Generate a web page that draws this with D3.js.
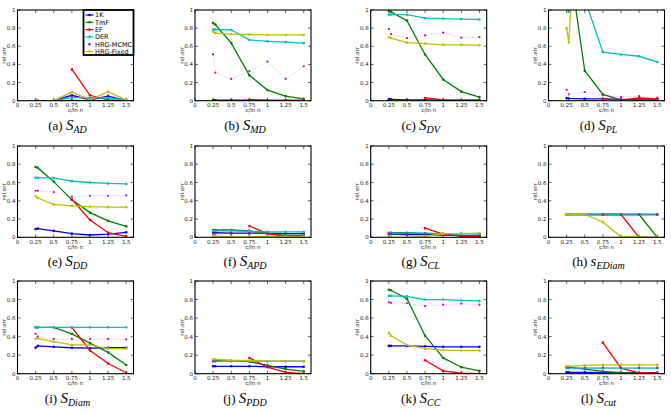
<!DOCTYPE html>
<html lang="en">
<head>
<meta charset="utf-8">
<title>rel.err small multiples</title>
<script src="https://d3js.org/d3.v7.min.js"></script>
<style>
  body { margin: 0; background: #fff; }
  text { font-family: "DejaVu Sans", sans-serif; }
  .cap { font-family: "Liberation Serif", "DejaVu Serif", serif; }
</style>
</head>
<body>
<script>
// x positions of the measurements (c / ln n)
const xs = [0.25, 0.28, 0.5, 0.75, 1, 1.25, 1.5];
const seriesNames = ['1K', 'TmF', 'EF', 'DER', 'HRG-MCMC', 'HRG-Fixed'];
const seriesColors = ['#0000ff', '#008000', '#ff0000', '#00bfbf', '#bf00bf', '#bfbf00'];
const xTicks = [0, 0.25, 0.5, 0.75, 1, 1.25, 1.5];
const yTicks = [0, 0.2, 0.4, 0.6, 0.8, 1];

// each panel: [1K, TmF, EF, DER, HRG-MCMC, HRG-Fixed]
const sAD = [
  [0, 0, 0, 0.06, 0.01, 0.05, 0],
  [0, 0, 0, 0.002, 0, 0, 0],
  [null, null, null, 0.345, 0.06, 0.01, 0],
  [0, 0, 0, 0.035, 0.035, 0.03, 0.01],
  [0, 0, 0, 0.05, 0.02, 0.06, 0.01],
  [0, 0, 0, 0.095, 0.01, 0.10, 0.01]
];
const sMD = [
  [0.005, 0.005, 0.005, 0.005, 0.003, 0.002, 0.002],
  [0.855, 0.84, 0.635, 0.28, 0.117, 0.05, 0.02],
  [null, null, null, 0.012, 0.005, 0.003, 0.002],
  [0.785, 0.785, 0.78, 0.67, 0.655, 0.645, 0.635],
  [0.51, 0.31, 0.24, 0.325, 0.43, 0.24, 0.38],
  [0.76, 0.745, 0.735, 0.73, 0.725, 0.725, 0.725]
];
const sDV = [
  [0.015, 0.015, 0.01, 0.01, 0.005, 0.005, 0.005],
  [0.99, 0.98, 0.883, 0.51, 0.234, 0.10, 0.04],
  [null, null, null, 0.03, 0.01, 0.005, 0.005],
  [0.95, 0.95, 0.948, 0.91, 0.905, 0.90, 0.895],
  [0.79, 0.735, 0.69, 0.72, 0.75, 0.695, 0.70],
  [0.70, 0.69, 0.64, 0.63, 0.615, 0.615, 0.61]
];
const sPL = [
  [0.03, 0.025, 0.02, 0.02, 0.015, 0.01, 0.01],
  [1.6, 1.55, 0.33, 0.07, 0.01, 0.01, 0.01],
  [null, null, null, 0.02, 0.01, 0.03, 0.02],
  [1.02, 0.98, 1.12, 0.536, 0.51, 0.49, 0.427],
  [0.12, 0.07, 0.095, 0.06, 0.04, 0.05, 0.035],
  [0.80, 0.642, 3.7, 3.5, 3.5, 3.5, 3.5]
];
const sDD = [
  [0.09, 0.095, 0.07, 0.04, 0.025, 0.035, 0.055],
  [0.77, 0.76, 0.61, 0.41, 0.27, 0.18, 0.12],
  [null, null, null, 0.415, 0.19, 0.05, 0.01],
  [0.653, 0.653, 0.65, 0.615, 0.60, 0.59, 0.585],
  [0.51, 0.51, 0.495, 0.445, 0.455, 0.455, 0.46],
  [0.45, 0.43, 0.36, 0.345, 0.335, 0.33, 0.33]
];
const sAPD = [
  [0.05, 0.05, 0.045, 0.045, 0.045, 0.04, 0.04],
  [0.08, 0.08, 0.08, 0.07, 0.04, 0.02, 0.02],
  [null, null, null, 0.124, 0.04, 0.01, 0],
  [0.07, 0.07, 0.07, 0.065, 0.06, 0.06, 0.06],
  [0.04, 0.04, 0.04, 0.04, 0.035, 0.035, 0.035],
  [0.02, 0.015, 0.005, 0.005, 0.01, 0.01, 0.01]
];
const sCL = [
  [0.035, 0.035, 0.03, 0.03, 0.025, 0.02, 0.02],
  [0.05, 0.05, 0.05, 0.04, 0.03, 0.02, 0.015],
  [null, null, null, 0.10, 0.035, 0.01, 0.005],
  [0.045, 0.045, 0.045, 0.045, 0.04, 0.04, 0.04],
  [0.04, 0.04, 0.04, 0.04, 0.04, 0.04, 0.04],
  [0, 0, 0, 0.01, 0.04, 0.04, 0.045]
];
const sEDiam = [
  [0.25, 0.25, 0.25, 0.25, 0.25, 0.25, 0.25],
  [0.25, 0.25, 0.25, 0.25, 0.25, 0.25, 0],
  [null, null, null, 0.25, 0.25, 0, 0],
  [0.25, 0.25, 0.25, 0.25, 0.25, 0.25, 0.25],
  [0.25, 0.25, 0.25, 0.25, 0.25, 0.25, 0.25],
  [0.25, 0.25, 0.25, 0.168, 0.005, 0.005, 0]
];
const sDiam = [
  [0.28, 0.30, 0.29, 0.28, 0.275, 0.28, 0.28],
  [0.5, 0.5, 0.5, 0.43, 0.33, 0.23, 0.094],
  [null, null, null, 0.5, 0.25, 0.11, 0.01],
  [0.5, 0.5, 0.5, 0.5, 0.5, 0.5, 0.5],
  [0.43, 0.40, 0.375, 0.375, 0.375, 0.375, 0.37],
  [0.38, 0.38, 0.345, 0.31, 0.31, 0.27, 0.27]
];
const sPDD = [
  [0.08, 0.08, 0.08, 0.08, 0.075, 0.075, 0.075],
  [0.14, 0.14, 0.14, 0.13, 0.09, 0.05, 0.025],
  [null, null, null, 0.17, 0.07, 0.015, 0],
  [0.135, 0.135, 0.135, 0.135, 0.135, 0.135, 0.135],
  [0.135, 0.135, 0.135, 0.135, 0.135, 0.135, 0.135],
  [0.155, 0.155, 0.145, 0.14, 0.135, 0.135, 0.135]
];
const sCC = [
  [0.30, 0.30, 0.30, 0.295, 0.29, 0.29, 0.29],
  [0.905, 0.90, 0.81, 0.41, 0.17, 0.07, 0.03],
  [null, null, null, 0.145, 0.03, 0.005, 0],
  [0.84, 0.84, 0.835, 0.80, 0.80, 0.79, 0.785],
  [0.77, 0.765, 0.76, 0.73, 0.745, 0.755, 0.745],
  [0.44, 0.41, 0.31, 0.27, 0.255, 0.25, 0.25]
];
const sCut = [
  [0.015, 0.015, 0.015, 0.01, 0.01, 0.01, 0.01],
  [0.075, 0.07, 0.05, 0.025, 0.01, 0.005, 0],
  [null, null, null, 0.335, 0.06, 0.01, 0.005],
  [0.06, 0.06, 0.06, 0.06, 0.06, 0.06, 0.06],
  [0.07, 0.07, 0.065, 0.065, 0.065, 0.065, 0.065],
  [0.08, 0.08, 0.09, 0.095, 0.095, 0.095, 0.095]
];

const panels = [
  {tag: '(a)', s: 'S', sub: 'AD', data: sAD},
  {tag: '(b)', s: 'S', sub: 'MD', data: sMD},
  {tag: '(c)', s: 'S', sub: 'DV', data: sDV},
  {tag: '(d)', s: 'S', sub: 'PL', data: sPL},
  {tag: '(e)', s: 'S', sub: 'DD', data: sDD},
  {tag: '(f)', s: 'S', sub: 'APD', data: sAPD},
  {tag: '(g)', s: 'S', sub: 'CL', data: sCL},
  {tag: '(h)', s: 's', sub: 'EDiam', data: sEDiam},
  {tag: '(i)', s: 'S', sub: 'Diam', data: sDiam},
  {tag: '(j)', s: 'S', sub: 'PDD', data: sPDD},
  {tag: '(k)', s: 'S', sub: 'CC', data: sCC},
  {tag: '(l)', s: 'S', sub: 'cut', data: sCut}
];

const W = 671, H = 412;
const colLeft = [17.5, 195, 370.7, 548.5];
const rowTop = [10, 146, 281];
const rowH = [90.7, 91.3, 92.7];
const pw = 116;

const svg = d3.select('body').append('svg')
  .attr('width', W).attr('height', H);

panels.forEach((p, i) => {
  const col = i % 4, row = Math.floor(i / 4);
  const ph = rowH[row];
  const g = svg.append('g')
    .attr('transform', 'translate(' + colLeft[col] + ',' + rowTop[row] + ')');

  const x = d3.scaleLinear().domain([0, 1.6]).range([0, pw]);
  const y = d3.scaleLinear().domain([0, 1]).range([ph, 0]);

  g.append('clipPath').attr('id', 'clip' + i)
    .append('rect').attr('width', pw).attr('height', ph);

  // ticks pointing inward, on all four sides
  const tickLen = 3;
  const ax = g.append('g').attr('font-size', 5.5).attr('fill', '#222');
  xTicks.forEach(t => {
    ax.append('line').attr('x1', x(t)).attr('x2', x(t)).attr('y1', ph).attr('y2', ph - tickLen).attr('stroke', '#000').attr('stroke-width', 0.6);
    ax.append('line').attr('x1', x(t)).attr('x2', x(t)).attr('y1', 0).attr('y2', tickLen).attr('stroke', '#000').attr('stroke-width', 0.6);
    ax.append('text').attr('x', x(t)).attr('y', ph + 6.5).attr('text-anchor', 'middle').text(t);
  });
  yTicks.forEach(t => {
    ax.append('line').attr('x1', 0).attr('x2', tickLen).attr('y1', y(t)).attr('y2', y(t)).attr('stroke', '#000').attr('stroke-width', 0.6);
    ax.append('line').attr('x1', pw).attr('x2', pw - tickLen).attr('y1', y(t)).attr('y2', y(t)).attr('stroke', '#000').attr('stroke-width', 0.6);
    ax.append('text').attr('x', -2).attr('y', y(t) + 2).attr('text-anchor', 'end').text(t);
  });
  g.append('text').attr('x', pw / 2).attr('y', ph + 11.5).attr('text-anchor', 'middle')
    .attr('font-size', 5.5).attr('fill', '#222').text('c/ln n');
  g.append('text').attr('transform', 'translate(-11.5,' + (ph / 2) + ') rotate(-90)')
    .attr('text-anchor', 'middle').attr('font-size', 5.5).attr('fill', '#222').text('rel.err');

  const plot = g.append('g').attr('clip-path', 'url(#clip' + i + ')');
  const line = d3.line()
    .defined(d => d[1] != null)
    .x(d => x(d[0])).y(d => y(d[1]));

  p.data.forEach((vals, k) => {
    const pts = xs.map((xv, j) => [xv, vals[j]]);
    const mcmc = seriesNames[k] === 'HRG-MCMC';
    plot.append('path').datum(pts)
      .attr('d', line)
      .attr('fill', 'none')
      .attr('stroke', seriesColors[k])
      .attr('stroke-width', mcmc ? 0.5 : 1.3)
      .attr('stroke-opacity', mcmc ? 0.6 : 1)
      .attr('stroke-dasharray', mcmc ? '1,1.2' : null);
    plot.selectAll(null).data(pts.filter(d => d[1] != null)).enter()
      .append('circle')
      .attr('cx', d => x(d[0])).attr('cy', d => y(d[1]))
      .attr('r', mcmc ? 1.1 : 1.3)
      .attr('fill', seriesColors[k]);
  });

  g.append('rect').attr('width', pw).attr('height', ph)
    .attr('fill', 'none').attr('stroke', '#000').attr('stroke-width', 1.1);

  // caption
  const cap = g.append('text').attr('class', 'cap')
    .attr('x', pw / 2 - 8).attr('y', ph + 29)
    .attr('text-anchor', 'middle').attr('font-size', 13);
  cap.append('tspan').text(p.tag + ' ');
  cap.append('tspan').attr('font-style', 'italic').attr('font-size', 15).text(p.s);
  cap.append('tspan').attr('font-style', 'italic').attr('font-size', 10)
    .attr('dy', 3).text(p.sub);

  // legend only in the first panel
  if (i === 0) {
    const lw = 50, lh = 45;
    const lg = g.append('g').attr('transform', 'translate(' + (pw - lw) + ',0)');
    lg.append('rect').attr('width', lw).attr('height', lh)
      .attr('fill', '#fff').attr('stroke', '#000').attr('stroke-width', 1.8);
    seriesNames.forEach((nm, k) => {
      const yy = 5 + k * 7.3;
      const mcmc = nm === 'HRG-MCMC';
      if (!mcmc) {
        lg.append('line').attr('x1', 2).attr('x2', 10).attr('y1', yy).attr('y2', yy)
          .attr('stroke', seriesColors[k]).attr('stroke-width', 1.2);
      }
      lg.append('circle').attr('cx', 6).attr('cy', yy).attr('r', 1.3).attr('fill', seriesColors[k]);
      lg.append('text').attr('x', 11.5).attr('y', yy + 2.3).attr('font-size', 6.5).text(nm);
    });
  }
});
</script>
</body>
</html>
